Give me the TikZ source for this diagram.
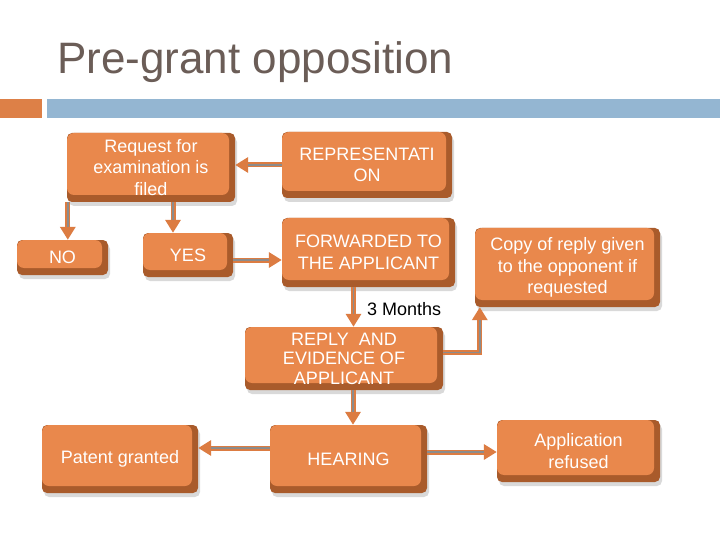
\documentclass[tikz,border=0pt]{standalone}
\usepackage{fontspec}
\setmainfont{Liberation Sans}
\usetikzlibrary{arrows.meta}
\definecolor{facec}{HTML}{E9884C}
\definecolor{bevelc}{HTML}{A95B2B}
\definecolor{arrowc}{HTML}{DC7C42}
\definecolor{linec}{HTML}{8C8C8C}
\definecolor{titlec}{HTML}{6B5D57}
\definecolor{barblue}{HTML}{94B6D2}
\definecolor{barorange}{HTML}{DD8047}
\tikzset{
  boxtext/.style={text=white, font=\fontsize{18}{21.5}\selectfont, align=center, inner sep=0pt},
  conn/.style={draw=arrowc, line width=5pt, -{Triangle[length=13pt,width=15pt]}},
  core/.style={draw=linec, line width=1.5pt, shorten >=13pt},
}
\newcommand\flowbox[7][]{%
  \fill[black, opacity=0.15, rounded corners=5pt] (#3+2,#4+4) rectangle (#5+2,#6+4);
  \fill[bevelc, rounded corners=5pt] (#3,#4) rectangle (#5,#6);
  \fill[facec, rounded corners=7pt] (#3,#4) rectangle (#5-6,#6-7);
  \node[boxtext, minimum width={#5-#3}, minimum height={#6-#4}, #1] (#2) at ({(#3+#5)/2},{(#4+#6)/2}) {#7};
}
\newcommand\connect[1]{\draw[conn] #1; \draw[core] #1;}
\begin{document}
\begin{tikzpicture}[x=1pt, y=-1pt]
\useasboundingbox (0,0) rectangle (720,540);
\fill[white] (0,0) rectangle (720,540);
\node[anchor=base west, text=titlec, font=\fontsize{44}{50}\selectfont, inner sep=0pt] (title) at (57,74) {Pre-grant opposition};
\fill[barorange] (0,99) rectangle (42,118);
\fill[barblue] (47,99) rectangle (720,118);

\flowbox{req}{67}{133}{235}{202}{Request for\\examination is\\filed}
\flowbox{rep}{282}{132}{452}{198}{REPRESENTATI\\ON}
\flowbox{no}{17}{240}{108}{275}{NO}
\flowbox{yes}{143}{233}{233}{277}{YES}
\flowbox{fwd}{282}{218}{455}{287}{FORWARDED TO\\THE APPLICANT}
\flowbox{copy}{475}{228}{660}{307}{Copy of reply given\\to the opponent if\\requested}
\flowbox[font=\fontsize{18}{19.5}\selectfont]{reply}{245}{327}{443}{390}{REPLY\ \ AND\\EVIDENCE OF\\APPLICANT}
\flowbox{hear}{270}{425}{427}{493}{HEARING}
\flowbox{pat}{42}{425}{198}{493}{Patent granted}
\flowbox{app}{497}{420}{660}{482}{Application\\refused}

\node[anchor=west, font=\fontsize{18}{21.5}\selectfont, text=black, inner sep=0pt] (months) at (367,309) {3 Months};

\connect{(rep.west) -- (rep.west -| req.east)}
\connect{([xshift=1pt]req.south west) -- ([xshift=1pt]req.south west |- no.north)}
\connect{([xshift=22pt]req.south) -- ([xshift=22pt]req.south |- yes.north)}
\connect{([yshift=-5pt]yes.east) -- ([yshift=-5pt]yes.east -| fwd.west)}
\connect{([xshift=-15pt]fwd.south) -- ([xshift=-15pt]fwd.south |- reply.north)}
\connect{([yshift=6pt]reply.east) -| ([xshift=5pt]copy.south west)}
\connect{([xshift=9pt]reply.south) -- ([xshift=9pt]reply.south |- hear.north)}
\connect{([yshift=11pt]hear.west) -- ([yshift=11pt]hear.west -| pat.east)}
\connect{([yshift=7pt]hear.east) -- ([yshift=7pt]hear.east -| app.west)}
\end{tikzpicture}
\end{document}
